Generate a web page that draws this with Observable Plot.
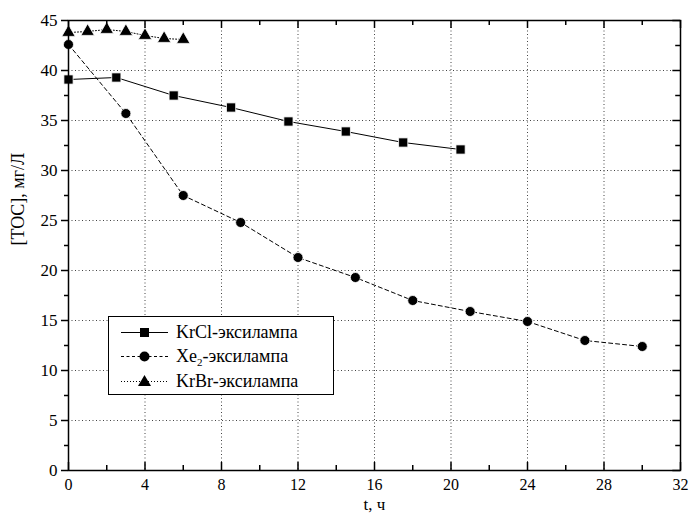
<!DOCTYPE html>
<html><head><meta charset="utf-8">
<script src="https://cdn.jsdelivr.net/npm/d3@7"></script>
<script src="https://cdn.jsdelivr.net/npm/@observablehq/plot@0.6"></script>
<style>
body{margin:0;background:#fff;}
#wrap{position:relative;width:692px;height:513px;font-family:'Liberation Serif','Tinos','DejaVu Serif',serif;}
#wrap svg text{font-family:'Liberation Serif','Tinos','DejaVu Serif',serif !important;}
#legend{position:absolute;left:108px;top:316px;width:226px;height:79px;border:1px solid #000;background:#fff;box-sizing:border-box;padding-top:3px;font-family:'Liberation Serif','Tinos','DejaVu Serif',serif;}
.row{display:flex;align-items:center;height:24.5px;font-size:18px;}
.row svg{margin-left:12px;margin-right:8px;}
</style></head>
<body><div id="wrap"></div>
<script>
// data
const krclT = [0, 2.5, 5.5, 8.5, 11.5, 14.5, 17.5, 20.5];
const krclV = [39.1, 39.3, 37.5, 36.3, 34.9, 33.9, 32.8, 32.1];
const xeT = [0, 3, 6, 9, 12, 15, 18, 21, 24, 27, 30];
const xeV = [42.6, 35.7, 27.5, 24.8, 21.3, 19.3, 17.0, 15.9, 14.9, 13.0, 12.4];
const krbrT = [0, 1, 2, 3, 4, 5, 6];
const krbrV = [43.8, 43.9, 44.1, 43.9, 43.5, 43.2, 43.1];
const xMajor = [0, 4, 8, 12, 16, 20, 24, 28, 32];
const xMinor = [2, 6, 10, 14, 18, 22, 26, 30];
const yMajor = [0, 5, 10, 15, 20, 25, 30, 35, 40, 45];
const yMinor = [2.5, 7.5, 12.5, 17.5, 22.5, 27.5, 32.5, 37.5, 42.5];
const seriesNames = ["KrCl-эксилампа", "Xe₂-эксилампа", "KrBr-эксилампа"];
const xLabel = "t, ч";
const yLabel = "[TOC], мг/Л";

const krcl = krclT.map((t, i) => ({t, v: krclV[i]}));
const xe = xeT.map((t, i) => ({t, v: xeV[i]}));
const krbr = krbrT.map((t, i) => ({t, v: krbrV[i]}));

const font = "'Liberation Serif', 'Tinos', 'DejaVu Serif', serif";
const chart = Plot.plot({
  width: 692, height: 513,
  marginLeft: 68, marginRight: 12, marginTop: 20, marginBottom: 43,
  style: {fontFamily: font, fontSize: "16px", background: "#fff", color: "#000"},
  x: {domain: [0, 32], axis: null},
  y: {domain: [0, 45], axis: null},
  marks: [
    Plot.gridX(xMajor, {stroke: "#444", strokeOpacity: 1, strokeDasharray: "1,2.5"}),
    Plot.gridY(yMajor, {stroke: "#444", strokeOpacity: 1, strokeDasharray: "1,2.5"}),
    Plot.line(krbr, {x: "t", y: "v", stroke: "#000", strokeWidth: 1, strokeDasharray: "1,2"}),
    Plot.line(xe, {x: "t", y: "v", stroke: "#000", strokeWidth: 1, strokeDasharray: "4,3"}),
    Plot.line(krcl, {x: "t", y: "v", stroke: "#000", strokeWidth: 1}),
    Plot.dot(krcl, {x: "t", y: "v", symbol: "square", r: 5.2, fill: "#000", stroke: "#fff", strokeWidth: 0.8}),
    Plot.dot(xe, {x: "t", y: "v", symbol: "circle", r: 5, fill: "#000", stroke: "#fff", strokeWidth: 0.8}),
    Plot.dot(krbr, {x: "t", y: "v", symbol: "triangle", r: 5, fill: "#000", stroke: "#fff", strokeWidth: 0.8}),
    // inward ticks bottom/top
    Plot.ruleX(xMajor, {x: d => d, y1: 0, y2: 0.8, stroke: "#000", strokeWidth: 1.5}),
    Plot.ruleX(xMinor, {x: d => d, y1: 0, y2: 0.5, stroke: "#000", strokeWidth: 1.5}),
    Plot.ruleX(xMajor, {x: d => d, y1: 45, y2: 44.2, stroke: "#000", strokeWidth: 1.5}),
    Plot.ruleX(xMinor, {x: d => d, y1: 45, y2: 44.5, stroke: "#000", strokeWidth: 1.5}),
    // inward ticks right
    Plot.ruleY(yMajor, {y: d => d, x1: 32, x2: 31.6, stroke: "#000", strokeWidth: 1.5}),
    Plot.ruleY(yMinor, {y: d => d, x1: 32, x2: 31.75, stroke: "#000", strokeWidth: 1.5}),
    Plot.axisX(xMajor, {tickSize: 0, tickPadding: 8, fontSize: 16, fontFamily: font, label: null}),
    Plot.axisY(yMajor, {tickSize: 7, tickPadding: 4, strokeWidth: 1.5, fontSize: 17, fontFamily: font, label: null}),
    Plot.axisY(yMinor, {tickSize: 4, tickFormat: () => "", strokeWidth: 1.5, label: null}),
    Plot.frame({stroke: "#000", strokeWidth: 1.5}),
    Plot.text([xLabel], {text: d => d, frameAnchor: "bottom", lineAnchor: "bottom", dy: 39, fontSize: 17, fontFamily: font}),
    Plot.text([yLabel], {text: d => d, frameAnchor: "left", dx: -50, rotate: -90, fontSize: 18, fontFamily: font})
  ]
});
const wrap = document.getElementById("wrap");
wrap.appendChild(chart);

// legend
const legend = document.createElement("div");
legend.id = "legend";
const styles = [
  {dash: null, sym: "square"},
  {dash: "3,2.5", sym: "circle"},
  {dash: "1,2", sym: "triangle"}
];
const labelsHtml = ["KrCl-эксилампа", "Xe<sub style='font-size:11px;vertical-align:-4px'>2</sub>-эксилампа", "KrBr-эксилампа"];
styles.forEach((s, i) => {
  const row = document.createElement("div");
  row.className = "row";
  let mk;
  if (s.sym === "square") mk = '<rect x="19" y="4" width="9" height="9" fill="#000"/>';
  else if (s.sym === "circle") mk = '<circle cx="23.5" cy="8.5" r="5" fill="#000"/>';
  else mk = '<path d="M23.5,2 L30,13 L17,13 Z" fill="#000"/>';
  row.innerHTML = `<svg width="47" height="17"><line x1="0" x2="47" y1="8.5" y2="8.5" stroke="#000" stroke-width="1" ${s.dash ? `stroke-dasharray="${s.dash}"` : ""}/>${mk}</svg><span>${labelsHtml[i]}</span>`;
  legend.appendChild(row);
});
wrap.appendChild(legend);
</script></body></html>
